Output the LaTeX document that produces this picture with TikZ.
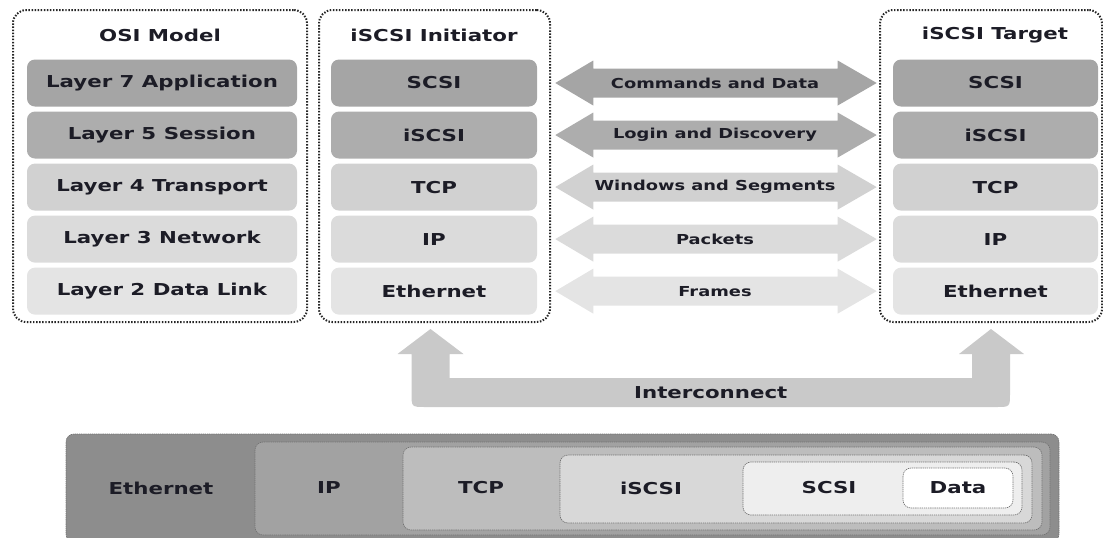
\documentclass[tikz,border=0pt]{standalone}
\usepackage{fontspec}
\newfontfamily\lab{DejaVu Sans}[FakeStretch=1.3]
\usetikzlibrary{positioning,calc,fit}
\usepackage{xcolor}
\definecolor{ink}{HTML}{1C1C26}
\definecolor{g1}{HTML}{A5A5A5}
\definecolor{g2}{HTML}{ADADAD}
\definecolor{g3}{HTML}{D1D1D1}
\definecolor{g4}{HTML}{DBDBDB}
\definecolor{g5}{HTML}{E4E4E4}
\definecolor{link}{HTML}{C9C9C9}
\definecolor{e1}{HTML}{8D8D8D}
\definecolor{e2}{HTML}{A2A2A2}
\definecolor{e3}{HTML}{BDBDBD}
\definecolor{e4}{HTML}{D8D8D8}
\definecolor{e5}{HTML}{EEEEEE}

\begin{document}
\begin{tikzpicture}[x=0.75pt, y=-0.75pt, node distance=3.375pt, every node/.style={font=\lab\bfseries\fontsize{12.3}{14}\selectfont, text=ink}]
\tikzstyle{dotframe}=[draw=black!85, line width=1.5pt, dash pattern=on 1.1pt off 1.2pt, rounded corners=10pt, inner sep=0pt]
\tikzstyle{lbox}=[rounded corners=6pt, minimum height=35.25pt, inner sep=0pt]
\tikzstyle{flowlabel}=[font=\lab\bfseries\fontsize{10.3}{12}\selectfont]
\tikzstyle{pdu}=[draw=black!55, dash pattern=on 1pt off 0.6pt, line width=0.5pt, rounded corners=6pt, inner sep=0pt]
\useasboundingbox (0,0) rectangle (1103,537);
\clip (0,0) rectangle (1103,537);

% dotted frames and titles
\node[dotframe, fit={(13,10) (307,322)}] (fosi) {};
\node[dotframe, fit={(319,10) (550,322)}] (fini) {};
\node[dotframe, fit={(880,10) (1102,322)}] (ftgt) {};
\node (tosi) at (160,35) {OSI Model};
\node (tini) at (434,35) {iSCSI Initiator};
\node (ttgt) at (995,35) {iSCSI Target};

% OSI model
\node[lbox, fill=g1, minimum width=202.5pt] (o1) at (162,83) {Layer 7 Application};
\node[lbox, fill=g2, minimum width=202.5pt, below=of o1] (o2) {Layer 5 Session};
\node[lbox, fill=g3, minimum width=202.5pt, below=of o2] (o3) {Layer 4 Transport};
\node[lbox, fill=g4, minimum width=202.5pt, below=of o3] (o4) {Layer 3 Network};
\node[lbox, fill=g5, minimum width=202.5pt, below=of o4] (o5) {Layer 2 Data Link};

% initiator
\node[lbox, fill=g1, minimum width=154.5pt] (i1) at (434,83) {SCSI};
\node[lbox, fill=g2, minimum width=154.5pt, below=of i1] (i2) {iSCSI};
\node[lbox, fill=g3, minimum width=154.5pt, below=of i2] (i3) {TCP};
\node[lbox, fill=g4, minimum width=154.5pt, below=of i3] (i4) {IP};
\node[lbox, fill=g5, minimum width=154.5pt, below=of i4] (i5) {Ethernet};

% target
\node[lbox, fill=g1, minimum width=153.75pt] (t1) at (995.5,83) {SCSI};
\node[lbox, fill=g2, minimum width=153.75pt, below=of t1] (t2) {iSCSI};
\node[lbox, fill=g3, minimum width=153.75pt, below=of t2] (t3) {TCP};
\node[lbox, fill=g4, minimum width=153.75pt, below=of t3] (t4) {IP};
\node[lbox, fill=g5, minimum width=153.75pt, below=of t4] (t5) {Ethernet};

% peer arrows
\foreach \r/\c/\t in {1/g1/Commands and Data, 2/g2/Login and Discovery, 3/g3/Windows and Segments, 4/g4/Packets, 5/g5/Frames}{
  \fill[\c] ($(i\r.east)+(18,0)$) -- ++(38,-22.5) -- ++(0,8) -- ($(t\r.west)+(-55,-14.5)$) -- ++(0,-8) -- ($(t\r.west)+(-16,0)$) -- ++(-39,22.5) -- ++(0,-8) -- ($(i\r.east)+(56,14.5)$) -- ++(0,8) -- cycle;
  \node[flowlabel] (f\r) at ($(i\r.east)!0.5!(t\r.west)$) {\t};
}

% interconnect
\coordinate (lt) at ($(fini.south)+(-4,6)$);
\coordinate (rt) at ($(ftgt.south)+(0,6)$);
\fill[link] (lt) -- ++(33,25) -- ++(-14,0) -- ++(0,24) -- ($(rt)+(-19,49)$) -- ++(0,-24) -- ++(-13,0) -- (rt) -- ++(33,25) -- ++(-14,0)
  -- ($(rt)+(19,64)$) .. controls ($(rt)+(19,78)$) .. ($(rt)+(5,78)$) -- ($(lt)+(-5,78)$) .. controls ($(lt)+(-19,78)$) .. ($(lt)+(-19,64)$)
  -- ($(lt)+(-19,25)$) -- ++(-14,0) -- cycle;
\node (ilab) at ($(lt)!0.5!(rt)+(0,63.5)$) {Interconnect};

% encapsulation
\node[pdu, fill=e1, fit={(66,434) (1059,542)}] (eth) {};
\node[pdu, fill=e2, fit={(255,442) (1050,535)}] (ip) {};
\node[pdu, fill=e3, fit={(403,447) (1042,530)}] (tcp) {};
\node[pdu, fill=e4, fit={(560,455) (1032,523)}] (iscsi) {};
\node[pdu, fill=e5, fit={(743,462) (1022,515)}] (scsi) {};
\node[pdu, fill=white, fit={(903,468) (1013,508)}] (data) {};
\node (leth) at (161,488) {Ethernet};
\node (lip) at (329,488) {IP};
\node (ltcp) at (481,488) {TCP};
\node (liscsi) at (651,488) {iSCSI};
\node (lscsi) at (829,488) {SCSI};
\node (ldata) at (958,488) {Data};
\end{tikzpicture}
\end{document}
